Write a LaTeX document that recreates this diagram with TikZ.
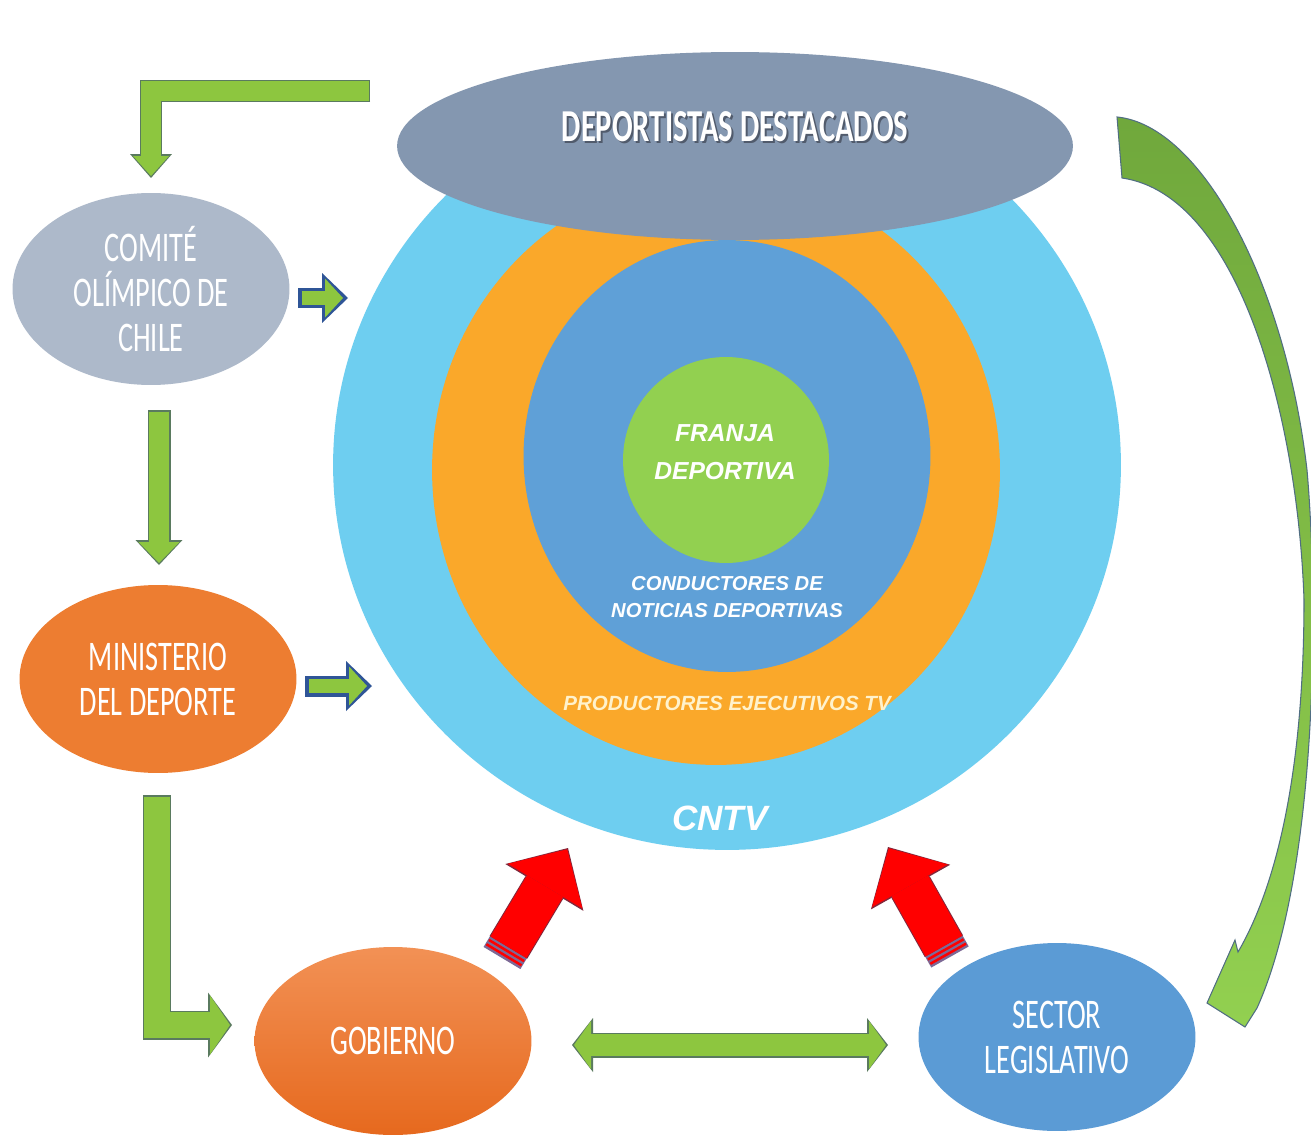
\documentclass[tikz,border=0pt]{standalone}
\usepackage{fontspec}
\setmainfont{Liberation Sans}
\newfontfamily\condfont[FakeStretch=0.67]{Carlito}
\usepackage{tikz}
\usetikzlibrary{shapes.geometric,arrows.meta,calc,positioning}
\usepackage{xcolor}
\definecolor{skyc}{RGB}{110,206,240}
\definecolor{orangec}{RGB}{250,168,42}
\definecolor{bluec}{RGB}{95,160,215}
\definecolor{greenc}{RGB}{146,208,80}
\definecolor{greyc}{RGB}{132,151,176}
\definecolor{comitec}{RGB}{173,185,202}
\definecolor{ministc}{RGB}{237,125,49}
\definecolor{gobtop}{RGB}{242,145,85}
\definecolor{gobbot}{RGB}{230,105,30}
\definecolor{legisc}{RGB}{91,155,213}
\definecolor{greenarr}{RGB}{141,198,63}
\definecolor{greenline}{RGB}{90,122,95}
\definecolor{blueline}{RGB}{47,85,151}
\definecolor{redc}{RGB}{255,0,0}
\definecolor{redline}{RGB}{130,40,60}
\definecolor{stripec}{RGB}{125,105,150}
\definecolor{curvetop}{RGB}{112,168,60}
\definecolor{curvebot}{RGB}{146,208,80}
\definecolor{curveline}{RGB}{80,110,130}
\definecolor{prodtext}{RGB}{255,242,204}
\definecolor{shadowc}{RGB}{60,66,80}

\tikzstyle{actor} = [ellipse, minimum width=5.54cm, minimum height=3.76cm, inner sep=0pt,
     text centered, align=center, text=white, font=\condfont\fontsize{24}{25.6}\selectfont]
\tikzstyle{ring} = [ellipse, inner sep=0pt, outer sep=0pt]
\tikzstyle{ringtext} = [text=white, align=center, inner sep=0pt]
\tikzstyle{deptext} = [text=white, inner sep=0pt, font=\condfont\bfseries\fontsize{26}{28}\selectfont]
\tikzstyle{stripe} = [draw=stripec, line width=0.86cm]
\tikzstyle{redseg} = [draw=redc, line width=0.82cm]
\tikzstyle{curvearrow} = [top color=curvetop, bottom color=curvebot, draw=curveline, line width=0.6pt]

\tikzset{
  garrow/.style n args={5}{draw=greenarr, line width=#1, line join=miter,
    shorten >=0.04cm, shorten <=0.03cm,
    -{Triangle[length=#3, width=#2, line width=0pt]},
    preaction={draw=greenline, line width=#1+0.06cm, shorten >=0cm, shorten <=0cm,
      -{Triangle[length=#5, width=#4, line width=0pt]}}},
  gdouble/.style n args={5}{draw=greenarr, line width=#1,
    shorten >=0.04cm, shorten <=0.04cm,
    {Triangle[length=#3, width=#2, line width=0pt]}-{Triangle[length=#3, width=#2, line width=0pt]},
    preaction={draw=greenline, line width=#1+0.06cm, shorten >=0cm, shorten <=0cm,
      {Triangle[length=#5, width=#4, line width=0pt]}-{Triangle[length=#5, width=#4, line width=0pt]}}},
  barrow/.style n args={5}{draw=greenarr, line width=#1,
    shorten >=0.1cm, shorten <=0.07cm,
    -{Triangle[length=#3, width=#2, line width=0pt]},
    preaction={draw=blueline, line width=#1+0.14cm, shorten >=0cm, shorten <=0cm,
      -{Triangle[length=#5, width=#4, line width=0pt]}}},
  rarrow/.style={draw=redc, line width=0.84cm, shorten >=0.03cm,
    -{Triangle[length=0.86cm, width=1.74cm, line width=0pt]},
    preaction={draw=redline, line width=0.88cm, shorten >=0cm,
      -{Triangle[length=0.92cm, width=1.82cm, line width=0pt]}}}
}

\begin{document}
\begin{tikzpicture}[x=0.02cm, y=-0.02cm]
\clip (0,0) rectangle (1311,1135);
\fill[white] (0,0) rectangle (1311,1135);

% rings
\node (ring_cntv) [ring, fill=skyc, minimum width=15.76cm, minimum height=15.4cm] at (727,465) {};
\node (ring_prod) [ring, fill=orangec, minimum width=11.36cm, minimum height=11.8cm] at (716,470) {};
\node (ring_cond) [ring, fill=bluec, minimum width=8.14cm, minimum height=8.64cm] at (727,456) {};
\node (ring_franja) [ring, fill=greenc, minimum width=4.12cm, minimum height=4.12cm] at (726,460) {};
\node (deport) [ring, fill=greyc, minimum width=13.52cm, minimum height=3.76cm,
  label={[deptext, text=shadowc, opacity=0.7, yshift=0.35cm, xshift=0.04cm]center:DEPORTISTAS DESTACADOS},
  label={[deptext, yshift=0.38cm]center:DEPORTISTAS DESTACADOS}] at (735,146) {};

\node (txt_franja) [ringtext, font=\bfseries\itshape\fontsize{14}{22}\selectfont] at (725,452) {FRANJA\\DEPORTIVA};
\node (txt_cond) [ringtext, font=\bfseries\itshape\fontsize{11.5}{15.4}\selectfont] at (727,597) {CONDUCTORES DE\\NOTICIAS DEPORTIVAS};
\node (txt_prod) [ringtext, text=prodtext, font=\bfseries\itshape\fontsize{11.7}{14}\selectfont] at (727,703) {PRODUCTORES EJECUTIVOS TV};
\node (txt_cntv) [ringtext, font=\bfseries\itshape\fontsize{20}{24}\selectfont] at (720,818) {CNTV};

% actors
\node (comite) [actor, fill=comitec, minimum height=3.84cm] at (151,289) {COMITÉ\\OLÍMPICO DE\\CHILE};
\node (minist) [actor, fill=ministc] at (158,679) {MINISTERIO\\DEL DEPORTE};
\node (gob) [actor, top color=gobtop, bottom color=gobbot] at (393,1041) {GOBIERNO};
\node (legis) [actor, fill=legisc] at (1057,1037) {SECTOR\\LEGISLATIVO};

% arrow ends
\coordinate (a1s) at (370,91);   \coordinate (a1e) at (151,178);
\coordinate (a2s) at (298,298);  \coordinate (a2e) at (348,298);
\coordinate (a3s) at (305,686);  \coordinate (a3e) at (372,686);
\coordinate (a4s) at (159,410);  \coordinate (a4e) at (159,565);
\coordinate (a5s) at (157,795);  \coordinate (a5e) at (232,1025);
\coordinate (a6s) at (572,1045); \coordinate (a6e) at (888,1045);
\coordinate (r1s) at (502,958);  \coordinate (r1e) at (568,848);
\coordinate (r2s) at (950,957);  \coordinate (r2e) at (888,847);

\draw[garrow={0.4cm}{0.72cm}{0.4cm}{0.84cm}{0.48cm}] (a1s) -| (a1e);
\draw[barrow={0.28cm}{0.78cm}{0.36cm}{1.0cm}{0.52cm}] (a2s) -- (a2e);
\draw[barrow={0.28cm}{0.78cm}{0.36cm}{1.0cm}{0.52cm}] (a3s) -- (a3e);
\draw[garrow={0.4cm}{0.82cm}{0.42cm}{0.94cm}{0.5cm}] (a4s) -- (a4e);
\draw[garrow={0.52cm}{1.18cm}{0.4cm}{1.3cm}{0.48cm}] (a5s) |- (a5e);
\draw[gdouble={0.44cm}{0.96cm}{0.34cm}{1.08cm}{0.42cm}] (a6s) -- (a6e);

% striped red arrows
\draw[stripe] (r1s) -- ($(r1s)!0.26cm!(r1e)$);
\draw[redseg] ($(r1s)!0.05cm!(r1e)$) -- ($(r1s)!0.1cm!(r1e)$);
\draw[redseg] ($(r1s)!0.15cm!(r1e)$) -- ($(r1s)!0.2cm!(r1e)$);
\draw[rarrow] ($(r1s)!0.25cm!(r1e)$) -- (r1e);

\draw[stripe] (r2s) -- ($(r2s)!0.26cm!(r2e)$);
\draw[redseg] ($(r2s)!0.05cm!(r2e)$) -- ($(r2s)!0.1cm!(r2e)$);
\draw[redseg] ($(r2s)!0.15cm!(r2e)$) -- ($(r2s)!0.2cm!(r2e)$);
\draw[rarrow] ($(r2s)!0.25cm!(r2e)$) -- (r2e);

% curved arrow to legislativo
\draw[curvearrow] (1117,117) .. controls (1200,125) and (1285,280) .. (1307,470)
  .. controls (1320,620) and (1315,880) .. (1257,1008) -- (1245,1027) -- (1207,1003)
  -- (1235,940) -- (1238,952) .. controls (1280,880) and (1304,760) .. (1304,600)
  .. controls (1298,420) and (1240,195) .. (1122,178) -- cycle;

\end{tikzpicture}
\end{document}
